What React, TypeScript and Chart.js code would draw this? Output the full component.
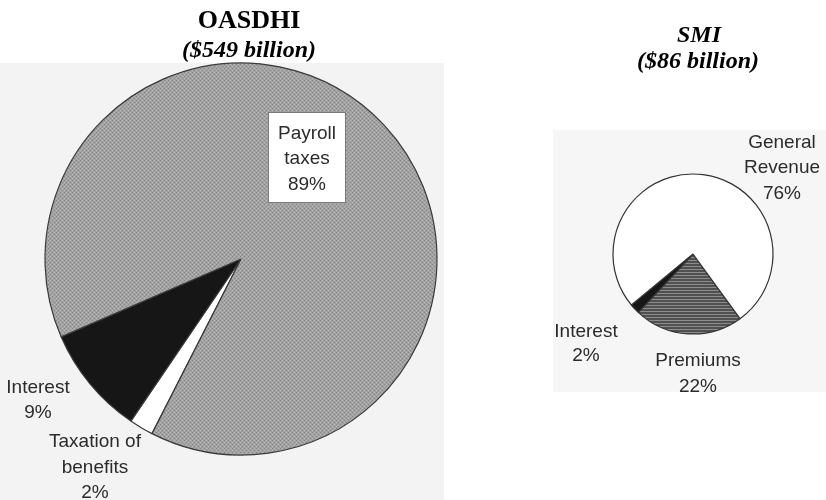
import React, { useEffect, useRef } from "react";
import { Chart, registerables } from "chart.js";
Chart.register(...registerables);

// ---- data ----
const oasdhiTitle = "OASDHI";
const oasdhiTotal = "($549 billion)";
const oasdhiLabels = ["Taxation of benefits", "Interest", "Payroll taxes"];
const oasdhiValues = [2, 9, 89];
const oasdhiLabelLines = [["Taxation of", "benefits"], ["Interest"], ["Payroll", "taxes"]];

const smiTitle = "SMI";
const smiTotal = "($86 billion)";
const smiLabels = ["Premiums", "Interest", "General Revenue"];
const smiValues = [22, 2, 76];
const smiLabelLines = [["Premiums"], ["Interest"], ["General", "Revenue"]];

const SANS = '"Liberation Sans", Arial, sans-serif';
const SERIF = '"Liberation Serif", "Times New Roman", serif';
const TEXT = "#2b2b2b";

function dotPattern(): CanvasPattern | string {
  const c = document.createElement("canvas");
  c.width = 4;
  c.height = 4;
  const g = c.getContext("2d");
  if (!g) return "#a0a0a0";
  g.fillStyle = "#a3a3a3";
  g.fillRect(0, 0, 4, 4);
  g.fillStyle = "#858585";
  g.fillRect(0, 0, 1, 1);
  g.fillRect(2, 2, 1, 1);
  g.fillStyle = "#b6b6b6";
  g.fillRect(2, 0, 1, 1);
  g.fillRect(0, 2, 1, 1);
  return g.createPattern(c, "repeat") || "#a0a0a0";
}

function hatchPattern(): CanvasPattern | string {
  const c = document.createElement("canvas");
  c.width = 4;
  c.height = 3;
  const g = c.getContext("2d");
  if (!g) return "#606060";
  g.fillStyle = "#505050";
  g.fillRect(0, 0, 4, 2);
  g.fillStyle = "#8c8c8c";
  g.fillRect(0, 2, 4, 1);
  return g.createPattern(c, "repeat") || "#606060";
}

type TextItem = { lines: string[]; x: number; y: number[] };

function drawLines(ctx: CanvasRenderingContext2D, t: TextItem) {
  t.lines.forEach((s, i) => ctx.fillText(s, t.x, t.y[i]));
}

export default function App() {
  const leftRef = useRef<HTMLCanvasElement | null>(null);
  const rightRef = useRef<HTMLCanvasElement | null>(null);

  useEffect(() => {
    if (!leftRef.current || !rightRef.current) return;
    const leftDeco = {
      id: "leftDeco",
      beforeDraw(chart: any) {
        const ctx = chart.ctx as CanvasRenderingContext2D;
        ctx.save();
        ctx.fillStyle = "#f3f3f3";
        ctx.fillRect(0, 63, 444, 437);
        ctx.restore();
      },
      afterDraw(chart: any) {
        const ctx = chart.ctx as CanvasRenderingContext2D;
        ctx.save();
        ctx.textAlign = "center";
        ctx.textBaseline = "alphabetic";
        ctx.fillStyle = "#000";
        ctx.font = `bold 26px ${SERIF}`;
        ctx.fillText(oasdhiTitle, 249, 28);
        ctx.font = `bold italic 24px ${SERIF}`;
        ctx.fillText(oasdhiTotal, 249, 57);
        // payroll box
        ctx.fillStyle = "#ffffff";
        ctx.fillRect(268, 112, 77, 90);
        ctx.strokeStyle = "#7a7a7a";
        ctx.lineWidth = 1;
        ctx.strokeRect(268.5, 112.5, 77, 90);
        ctx.fillStyle = TEXT;
        ctx.font = `19px ${SANS}`;
        const items: TextItem[] = [
          { lines: [...oasdhiLabelLines[0], `${oasdhiValues[0]}%`], x: 95, y: [447, 473, 498] },
          { lines: [...oasdhiLabelLines[1], `${oasdhiValues[1]}%`], x: 38, y: [393, 418] },
          { lines: [...oasdhiLabelLines[2], `${oasdhiValues[2]}%`], x: 307, y: [139, 164, 190] },
        ];
        items.forEach((t) => drawLines(ctx, t));
        ctx.restore();
      },
    };
    const rightDeco = {
      id: "rightDeco",
      beforeDraw(chart: any) {
        const ctx = chart.ctx as CanvasRenderingContext2D;
        ctx.save();
        ctx.fillStyle = "#f6f6f6";
        ctx.fillRect(83, 130, 273, 262);
        ctx.restore();
      },
      afterDraw(chart: any) {
        const ctx = chart.ctx as CanvasRenderingContext2D;
        ctx.save();
        ctx.textAlign = "center";
        ctx.textBaseline = "alphabetic";
        ctx.fillStyle = "#000";
        ctx.font = `bold italic 24px ${SERIF}`;
        ctx.fillText(smiTitle, 229, 42);
        ctx.fillText(smiTotal, 228, 68);
        ctx.fillStyle = TEXT;
        ctx.font = `19px ${SANS}`;
        const items: TextItem[] = [
          { lines: [...smiLabelLines[0], `${smiValues[0]}%`], x: 228, y: [366, 392] },
          { lines: [...smiLabelLines[1], `${smiValues[1]}%`], x: 116, y: [337, 361] },
          { lines: [...smiLabelLines[2], `${smiValues[2]}%`], x: 312, y: [148, 173, 199] },
        ];
        items.forEach((t) => drawLines(ctx, t));
        ctx.restore();
      },
    };

    const left = new Chart(leftRef.current, {
      type: "pie",
      data: {
        labels: oasdhiLabels,
        datasets: [
          {
            data: oasdhiValues,
            backgroundColor: ["#ffffff", "#161616", dotPattern()] as any,
            borderColor: "#3a3a3a",
            borderWidth: 1.2,
          },
        ],
      },
      options: {
        responsive: false,
        animation: false,
        rotation: 207,
        radius: 196,
        layout: { padding: { left: 12, right: 0, top: 18, bottom: 0 } },
        events: [],
        plugins: { legend: { display: false }, tooltip: { enabled: false } },
      },
      plugins: [leftDeco],
    });

    const right = new Chart(rightRef.current, {
      type: "pie",
      data: {
        labels: smiLabels,
        datasets: [
          {
            data: smiValues,
            backgroundColor: [hatchPattern(), "#161616", "#ffffff"] as any,
            borderColor: "#333333",
            borderWidth: 1.2,
          },
        ],
      },
      options: {
        responsive: false,
        animation: false,
        rotation: 144,
        radius: 80,
        layout: { padding: { left: 90, right: 0, top: 8, bottom: 0 } },
        events: [],
        plugins: { legend: { display: false }, tooltip: { enabled: false } },
      },
      plugins: [rightDeco],
    });

    return () => {
      left.destroy();
      right.destroy();
    };
  }, []);

  return (
    <div style={{ position: "absolute", left: 0, top: 0, width: 826, height: 500, background: "#fff" }}>
      <canvas
        ref={leftRef}
        width={470}
        height={500}
        style={{ position: "absolute", left: 0, top: 0, width: 470, height: 500 }}
      />
      <canvas
        ref={rightRef}
        width={356}
        height={500}
        style={{ position: "absolute", left: 470, top: 0, width: 356, height: 500 }}
      />
    </div>
  );
}
